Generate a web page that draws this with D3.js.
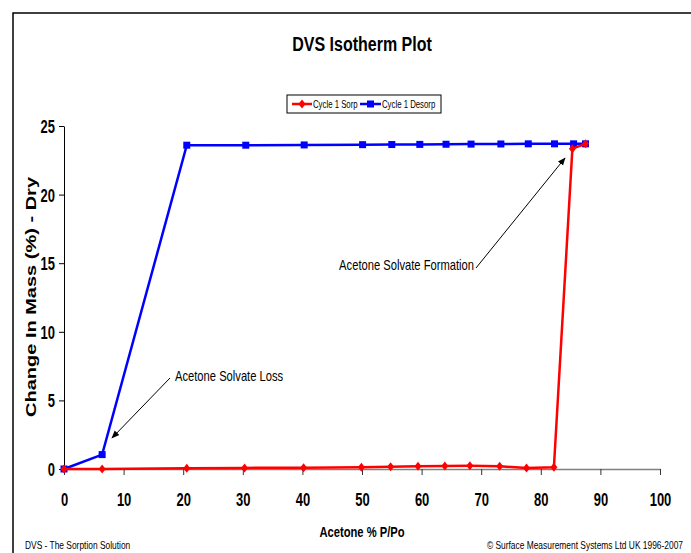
<!DOCTYPE html>
<html>
<head>
<meta charset="utf-8">
<script src="https://cdn.jsdelivr.net/npm/d3@7"></script>
<style>
  body { margin: 0; background: #fff; }
  svg { display: block; font-family: "Liberation Sans", Arial, sans-serif; }
</style>
</head>
<body>
<svg id="svg"></svg>
<script>
// Cycle 1 sorption (red) - Acetone % P/Po vs change in mass
const sorpX = [0, 6.4, 20.6, 30.3, 40.2, 49.9, 54.8, 59.4, 63.9, 68.1, 73.1, 77.6, 82.2, 85.3, 87.5];
const sorpY = [0, 0.0, 0.05, 0.08, 0.1, 0.13, 0.17, 0.2, 0.22, 0.23, 0.2, 0.08, 0.12, 23.35, 23.7];

// Cycle 1 desorption (blue)
const desorpX = [87.5, 85.5, 82.3, 77.9, 73.3, 68.3, 64.1, 59.7, 55.0, 50.1, 40.3, 30.5, 20.6, 6.4, 0];
const desorpY = [23.7, 23.7, 23.7, 23.7, 23.69, 23.68, 23.67, 23.66, 23.65, 23.64, 23.62, 23.6, 23.6, 1.05, 0];

const xTicks = [0, 10, 20, 30, 40, 50, 60, 70, 80, 90, 100];
const yTicks = [0, 5, 10, 15, 20, 25];

const width = 691;
const height = 553;

// the original uses a condensed Arial; squeeze text horizontally to get close
function narrowText(parent, x, y, str, size, sx, anchor, bold) {
  return parent.append('text')
    .attr('transform', 'translate(' + x + ',' + y + ') scale(' + sx + ',1)')
    .attr('text-anchor', anchor || 'start')
    .attr('font-size', size)
    .attr('font-weight', bold ? 'bold' : 'normal')
    .text(str);
}

const svg = d3.select('#svg')
  .attr('width', width)
  .attr('height', height);

// outer frame (runs off the right / bottom edge like the original)
svg.append('path')
  .attr('d', 'M13,' + height + 'V13H' + width)
  .attr('fill', 'none')
  .attr('stroke', '#000')
  .attr('stroke-width', 1.5);

const xScale = d3.scaleLinear().domain([0, 100]).range([64, 660]);
const yScale = d3.scaleLinear().domain([0, 25]).range([469, 126]);

// title
narrowText(svg, 362, 51, 'DVS Isotherm Plot', 20, 0.8, 'middle', true);

// axes
const xAxis = svg.append('g')
  .attr('transform', 'translate(0,' + yScale(0) + ')')
  .call(d3.axisBottom(xScale).tickValues(xTicks).tickSize(6).tickSizeOuter(0));
xAxis.select('.domain').attr('stroke', '#808080').attr('stroke-width', 1.5);
xAxis.selectAll('.tick line').attr('stroke', '#333');
xAxis.selectAll('.tick text')
  .attr('y', 0)
  .attr('dy', 0)
  .attr('transform', 'translate(0,37) scale(0.72,1)');

const yAxis = svg.append('g')
  .attr('transform', 'translate(' + xScale(0) + ',0)')
  .call(d3.axisLeft(yScale).tickValues(yTicks).tickSize(5).tickSizeOuter(0));
yAxis.select('.domain').attr('stroke', '#000').attr('stroke-width', 1);
yAxis.selectAll('.tick text')
  .attr('x', 0)
  .attr('dy', '0.36em')
  .attr('transform', 'translate(-9,0) scale(0.72,1)');

svg.selectAll('.tick text')
  .attr('font-size', 18)
  .attr('font-weight', 'bold')
  .attr('font-family', '"Liberation Sans", Arial, sans-serif')
  .attr('fill', '#000');

// axis titles
narrowText(svg, 362, 537, 'Acetone % P/Po', 14, 0.8, 'middle', true);

svg.append('text')
  .attr('transform', 'translate(36,297) rotate(-90)')
  .attr('text-anchor', 'middle')
  .attr('font-size', 15)
  .attr('font-weight', 'bold')
  .attr('textLength', 240)
  .attr('lengthAdjust', 'spacingAndGlyphs')
  .text('Change In Mass (%) - Dry');

// series
const line = d3.line()
  .x((d) => xScale(d[0]))
  .y((d) => yScale(d[1]));

const sorp = sorpX.map((x, i) => [x, sorpY[i]]);
const desorp = desorpX.map((x, i) => [x, desorpY[i]]);

const diamond = 'M0,-4.5L3.5,0L0,4.5L-3.5,0Z';

function drawSorp(g) {
  g.append('path')
    .datum(sorp)
    .attr('fill', 'none')
    .attr('stroke', '#ff0000')
    .attr('stroke-width', 2.5)
    .attr('d', line);
  g.selectAll('path.pt')
    .data(sorp)
    .enter()
    .append('path')
    .attr('class', 'pt')
    .attr('transform', (d) => 'translate(' + xScale(d[0]) + ',' + yScale(d[1]) + ')')
    .attr('d', diamond)
    .attr('fill', '#ff0000');
}

function drawDesorp(g) {
  g.append('path')
    .datum(desorp)
    .attr('fill', 'none')
    .attr('stroke', '#0000ff')
    .attr('stroke-width', 2.5)
    .attr('d', line);
  g.selectAll('rect.pt')
    .data(desorp)
    .enter()
    .append('rect')
    .attr('class', 'pt')
    .attr('x', (d) => xScale(d[0]) - 3.5)
    .attr('y', (d) => yScale(d[1]) - 3.5)
    .attr('width', 7)
    .attr('height', 7)
    .attr('fill', '#0000ff');
}

drawDesorp(svg.append('g'));
drawSorp(svg.append('g'));

// legend
const legend = svg.append('g').attr('transform', 'translate(287,95)');
legend.append('rect')
  .attr('width', 154)
  .attr('height', 18)
  .attr('fill', '#fff')
  .attr('stroke', '#000')
  .attr('stroke-width', 1);

legend.append('line')
  .attr('x1', 5).attr('x2', 25).attr('y1', 9).attr('y2', 9)
  .attr('stroke', '#ff0000').attr('stroke-width', 2.5);
legend.append('path')
  .attr('transform', 'translate(15,9)')
  .attr('d', diamond)
  .attr('fill', '#ff0000');
narrowText(legend, 26, 12.5, 'Cycle 1 Sorp', 10, 0.78);

legend.append('line')
  .attr('x1', 73).attr('x2', 94).attr('y1', 9).attr('y2', 9)
  .attr('stroke', '#0000ff').attr('stroke-width', 2.5);
legend.append('rect')
  .attr('x', 80).attr('y', 5.5).attr('width', 7).attr('height', 7)
  .attr('fill', '#0000ff');
narrowText(legend, 95, 12.5, 'Cycle 1 Desorp', 10, 0.78);

// annotations
const defs = svg.append('defs');
defs.append('marker')
  .attr('id', 'arrow')
  .attr('viewBox', '0 0 10 10')
  .attr('refX', 9)
  .attr('refY', 5)
  .attr('markerWidth', 8)
  .attr('markerHeight', 8)
  .attr('orient', 'auto')
  .append('path')
  .attr('d', 'M0,1L10,5L0,9z')
  .attr('fill', '#000');

svg.append('line')
  .attr('x1', 170).attr('y1', 378)
  .attr('x2', 112).attr('y2', 438)
  .attr('stroke', '#000').attr('stroke-width', 1)
  .attr('marker-end', 'url(#arrow)');
narrowText(svg, 175, 381, 'Acetone Solvate Loss', 14, 0.8);

svg.append('line')
  .attr('x1', 476).attr('y1', 268)
  .attr('x2', 565).attr('y2', 158)
  .attr('stroke', '#000').attr('stroke-width', 1)
  .attr('marker-end', 'url(#arrow)');
narrowText(svg, 474, 270, 'Acetone Solvate Formation', 14, 0.8, 'end');

// footers
narrowText(svg, 25, 549, 'DVS - The Sorption Solution', 10.5, 0.8);
narrowText(svg, 683, 549, '© Surface Measurement Systems Ltd UK 1996-2007', 10.5, 0.8, 'end');
</script>
</body>
</html>
